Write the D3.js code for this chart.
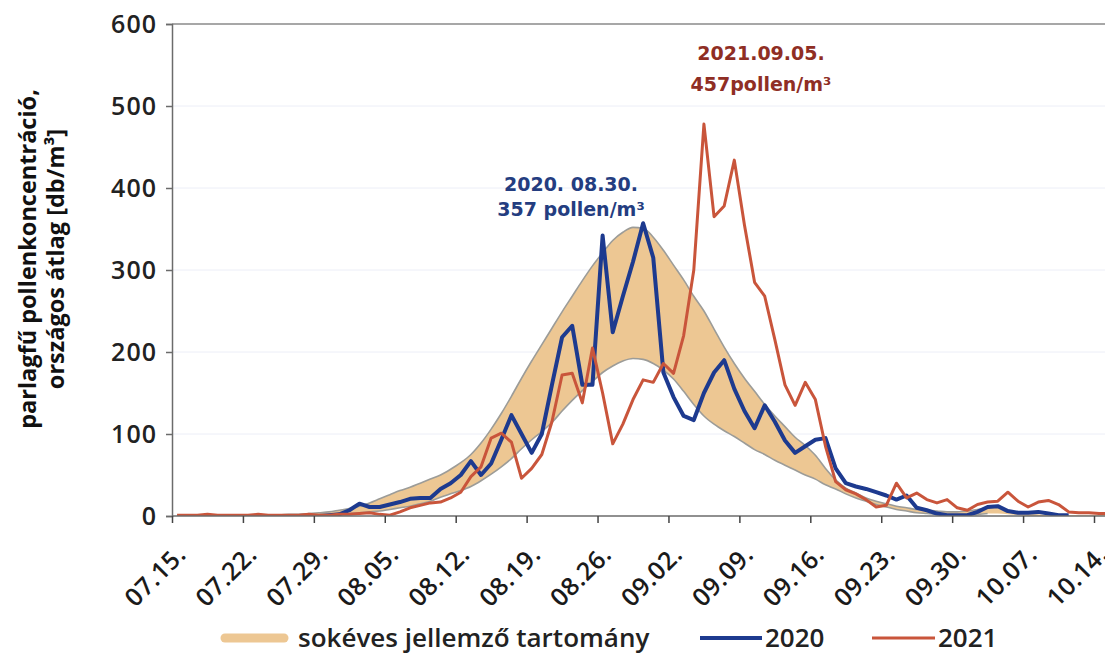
<!DOCTYPE html>
<html><head><meta charset="utf-8">
<script src="https://cdn.jsdelivr.net/npm/d3@7"></script>
<style>
html,body{margin:0;padding:0;background:#fff;}
svg{display:block;}
</style></head>
<body>
<svg id="chart" width="1105" height="656"></svg>
<script>
// ---- data ----
const startDay = "2021-07-15";           // first category (day index 0)
const tickLabels = ["07.15.","07.22.","07.29.","08.05.","08.12.","08.19.","08.26.","09.02.","09.09.","09.16.","09.23.","09.30.","10.07.","10.14."];
const yTicks = [0,100,200,300,400,500,600];

// multi-year characteristic range (lower / upper edge), daily from 07.15.
const bandLow = [0,0,0,0,0,0,0,0,0,0,0,0,0,
  1,1,1,2,3,4,5,6,8,10,12,15,18,23,27,31,36,43,51,60,70,82,93,103,114,128,141,153,164,175,183,189,192,191,186,178,167,152,136,122,112,104,97,89,81,75,68,62,56,50,45,38,33,27,22,18,14,11,8,6,4,3,2,1,1,1,2,3,3,2,1,
  0,0,0,0,0,0,0,0,0];
const bandHigh = [1,1,1,1,1,1,1,1,1,1,1,
  2,2,3,4,5,7,9,12,16,21,26,31,35,40,45,50,57,65,75,89,106,125,146,168,189,209,229,249,268,287,305,321,336,346,352,351,340,324,306,288,268,250,228,206,186,168,152,136,122,109,96,86,74,58,44,34,28,22,18,15,12,10,8,7,6,5,5,6,8,10,10,8,5,3,2,
  1,1,1,1,1,1,1];
// 2020 series (starts at day 13)
const start2020 = 13;
const s2020 = [0,0,1,2,7,15,11,11,14,17,21,22,22,33,40,50,67,50,64,93,123,100,77,100,160,218,232,160,160,342,224,268,310,357,315,175,145,122,117,150,175,190,155,128,107,135,115,92,77,85,93,95,58,40,36,33,29,25,20,25,10,7,3,1,1,1,5,11,12,6,4,4,5,3,1,1];
// 2021 series (starts at day 0)
const s2021 = [1,1,1,2,1,1,1,1,2,1,1,1,1,2,1,1,2,2,3,4,2,1,5,10,13,16,17,22,29,48,60,95,101,90,46,58,75,115,172,174,138,205,150,88,112,142,166,163,186,174,220,300,478,365,378,434,355,285,268,215,160,135,163,142,85,42,32,27,20,11,13,40,22,28,20,16,20,10,7,14,17,18,29,18,11,17,19,14,5,4,4,3,3];

const legendLabels = ["sokéves jellemző tartomány","2020","2021"];
const ann2020 = ["2020. 08.30.","357 pollen/m³"];
const ann2021 = ["2021.09.05.","457pollen/m³"];
const yTitle = ["parlagfű pollenkoncentráció,","országos átlag [db/m³]"];

// ---- layout ----
const svg = d3.select("#chart");
const L = 172, R = 1105, T = 24, B = 516;
const DAY = 864e5;
const t0 = Date.parse(startDay + "T00:00:00Z");
const dayDate = d => new Date(t0 + d*DAY);
const x = d3.scaleUtc().domain([dayDate(0), dayDate(91)]).range([L, 1094]);
const y = d3.scaleLinear().domain([0,600]).range([B, T]);
const xc = d => x(new Date(t0 + (d+0.5)*DAY));

const FONT = "'Open Sans', 'Noto Sans', sans-serif";
const FONT_ANN = "'DejaVu Sans', Verdana, sans-serif";
const C_BLUE = "#1d3a8f", C_RED = "#c9553b", C_BAND = "#edc793", C_BANDLINE = "#9c9c98";

svg.append("rect").attr("width",1105).attr("height",656).attr("fill","#fff");

// grid
svg.append("g").selectAll("line").data(yTicks.filter(v=>v>0 && v<600)).join("line")
  .attr("x1",L).attr("x2",R).attr("y1",d=>y(d)).attr("y2",d=>y(d))
  .attr("stroke","#eceef7").attr("stroke-width",1);

svg.append("defs").append("clipPath").attr("id","clip")
  .append("rect").attr("x",L).attr("y",T-10).attr("width",R-L).attr("height",B-T+10);
const plot = svg.append("g").attr("clip-path","url(#clip)");

// band
const idx = d3.range(bandLow.length);
const area = d3.area().x(i=>xc(i)).y0(i=>y(bandLow[i])).y1(i=>y(bandHigh[i])).curve(d3.curveMonotoneX);
plot.append("path").datum(idx).attr("d",area).attr("fill",C_BAND).attr("stroke","none");
const lineLow = d3.line().x(i=>xc(i)).y(i=>y(bandLow[i])).curve(d3.curveMonotoneX);
const lineHigh = d3.line().x(i=>xc(i)).y(i=>y(bandHigh[i])).curve(d3.curveMonotoneX);
plot.append("path").datum(idx.filter(i=>i>=10 && i<=80)).attr("d",lineLow).attr("fill","none").attr("stroke",C_BANDLINE).attr("stroke-width",1.6);
plot.append("path").datum(idx.filter(i=>i>=10 && i<=80)).attr("d",lineHigh).attr("fill","none").attr("stroke",C_BANDLINE).attr("stroke-width",1.6);

// series
const line2020 = d3.line().x((v,i)=>xc(i+start2020)).y(v=>y(v));
const line2021 = d3.line().x((v,i)=>xc(i)).y(v=>y(v));
plot.append("path").datum(s2020).attr("d",line2020).attr("fill","none")
  .attr("stroke",C_BLUE).attr("stroke-width",4).attr("stroke-linejoin","round");
plot.append("path").datum(s2021).attr("d",line2021).attr("fill","none")
  .attr("stroke",C_RED).attr("stroke-width",3).attr("stroke-linejoin","round");

// axes
const axisColor = "#6b6b6b";
svg.append("line").attr("x1",L).attr("x2",R).attr("y1",T).attr("y2",T).attr("stroke","#8a8a8a").attr("stroke-width",1.3);
const yAxis = svg.append("g").attr("transform",`translate(${L},0)`)
  .call(d3.axisLeft(y).tickValues(yTicks).tickSize(6).tickPadding(9));
yAxis.select(".domain").attr("stroke",axisColor).attr("stroke-width",1.5);
yAxis.selectAll(".tick line").attr("stroke",axisColor).attr("stroke-width",1.5);
yAxis.selectAll("text").attr("font-family",FONT).attr("font-size",25).attr("font-weight",600)
  .attr("letter-spacing","1px").attr("fill","#222");

const xTickDates = tickLabels.map((s,i)=>dayDate(i*7));
const xAxis = svg.append("g").attr("transform",`translate(0,${B})`)
  .call(d3.axisBottom(x).tickValues(xTickDates).tickSize(7).tickFormat((d,i)=>tickLabels[i]));
xAxis.select(".domain").attr("stroke",axisColor).attr("stroke-width",1.5).attr("d",`M${L},0H${R}`);
xAxis.selectAll(".tick line").attr("stroke","#444").attr("stroke-width",1.5);
xAxis.selectAll("text")
  .attr("font-family",FONT).attr("font-size",25).attr("font-weight",600).attr("fill","#1a1a1a")
  .attr("letter-spacing","0.5px")
  .attr("text-anchor","end").attr("dy",null).attr("y",null)
  .attr("transform","translate(15,40) rotate(-45)");

// y title
const yt = svg.append("text").attr("transform","translate(0,259) rotate(-90)")
  .attr("font-family",FONT).attr("font-size",23.5).attr("font-weight",700).attr("fill","#111")
  .attr("text-anchor","middle");
yt.append("tspan").attr("x",0).attr("y",36).text(yTitle[0]);
yt.append("tspan").attr("x",0).attr("y",64).text(yTitle[1]);

// annotations
function ann(lines, cx, y0, color, gap){
  const t = svg.append("text").attr("font-family",FONT_ANN).attr("font-size",19).attr("font-weight",700)
    .attr("fill",color).attr("text-anchor","middle");
  lines.forEach((s,i)=>t.append("tspan").attr("x",cx).attr("y",y0+i*gap).text(s));
}
ann(ann2020, 571, 191, "#243d80", 25);
ann(ann2021, 761, 60, "#8f2e24", 31);

// legend
const ly = 638;
const lg = svg.append("g");
lg.append("line").attr("x1",225).attr("x2",284).attr("y1",ly).attr("y2",ly)
  .attr("stroke",C_BAND).attr("stroke-width",9).attr("stroke-linecap","round");
lg.append("text").attr("x",298).attr("y",ly+9).text(legendLabels[0]);
lg.append("line").attr("x1",700).attr("x2",762).attr("y1",ly).attr("y2",ly).attr("stroke",C_BLUE).attr("stroke-width",4);
lg.append("text").attr("x",765).attr("y",ly+9).text(legendLabels[1]);
lg.append("line").attr("x1",872).attr("x2",935).attr("y1",ly).attr("y2",ly).attr("stroke",C_RED).attr("stroke-width",3.2);
lg.append("text").attr("x",938).attr("y",ly+9).text(legendLabels[2]);
lg.selectAll("text").attr("font-family",FONT).attr("font-size",26).attr("font-weight",600).attr("fill","#222");
</script>
</body></html>
